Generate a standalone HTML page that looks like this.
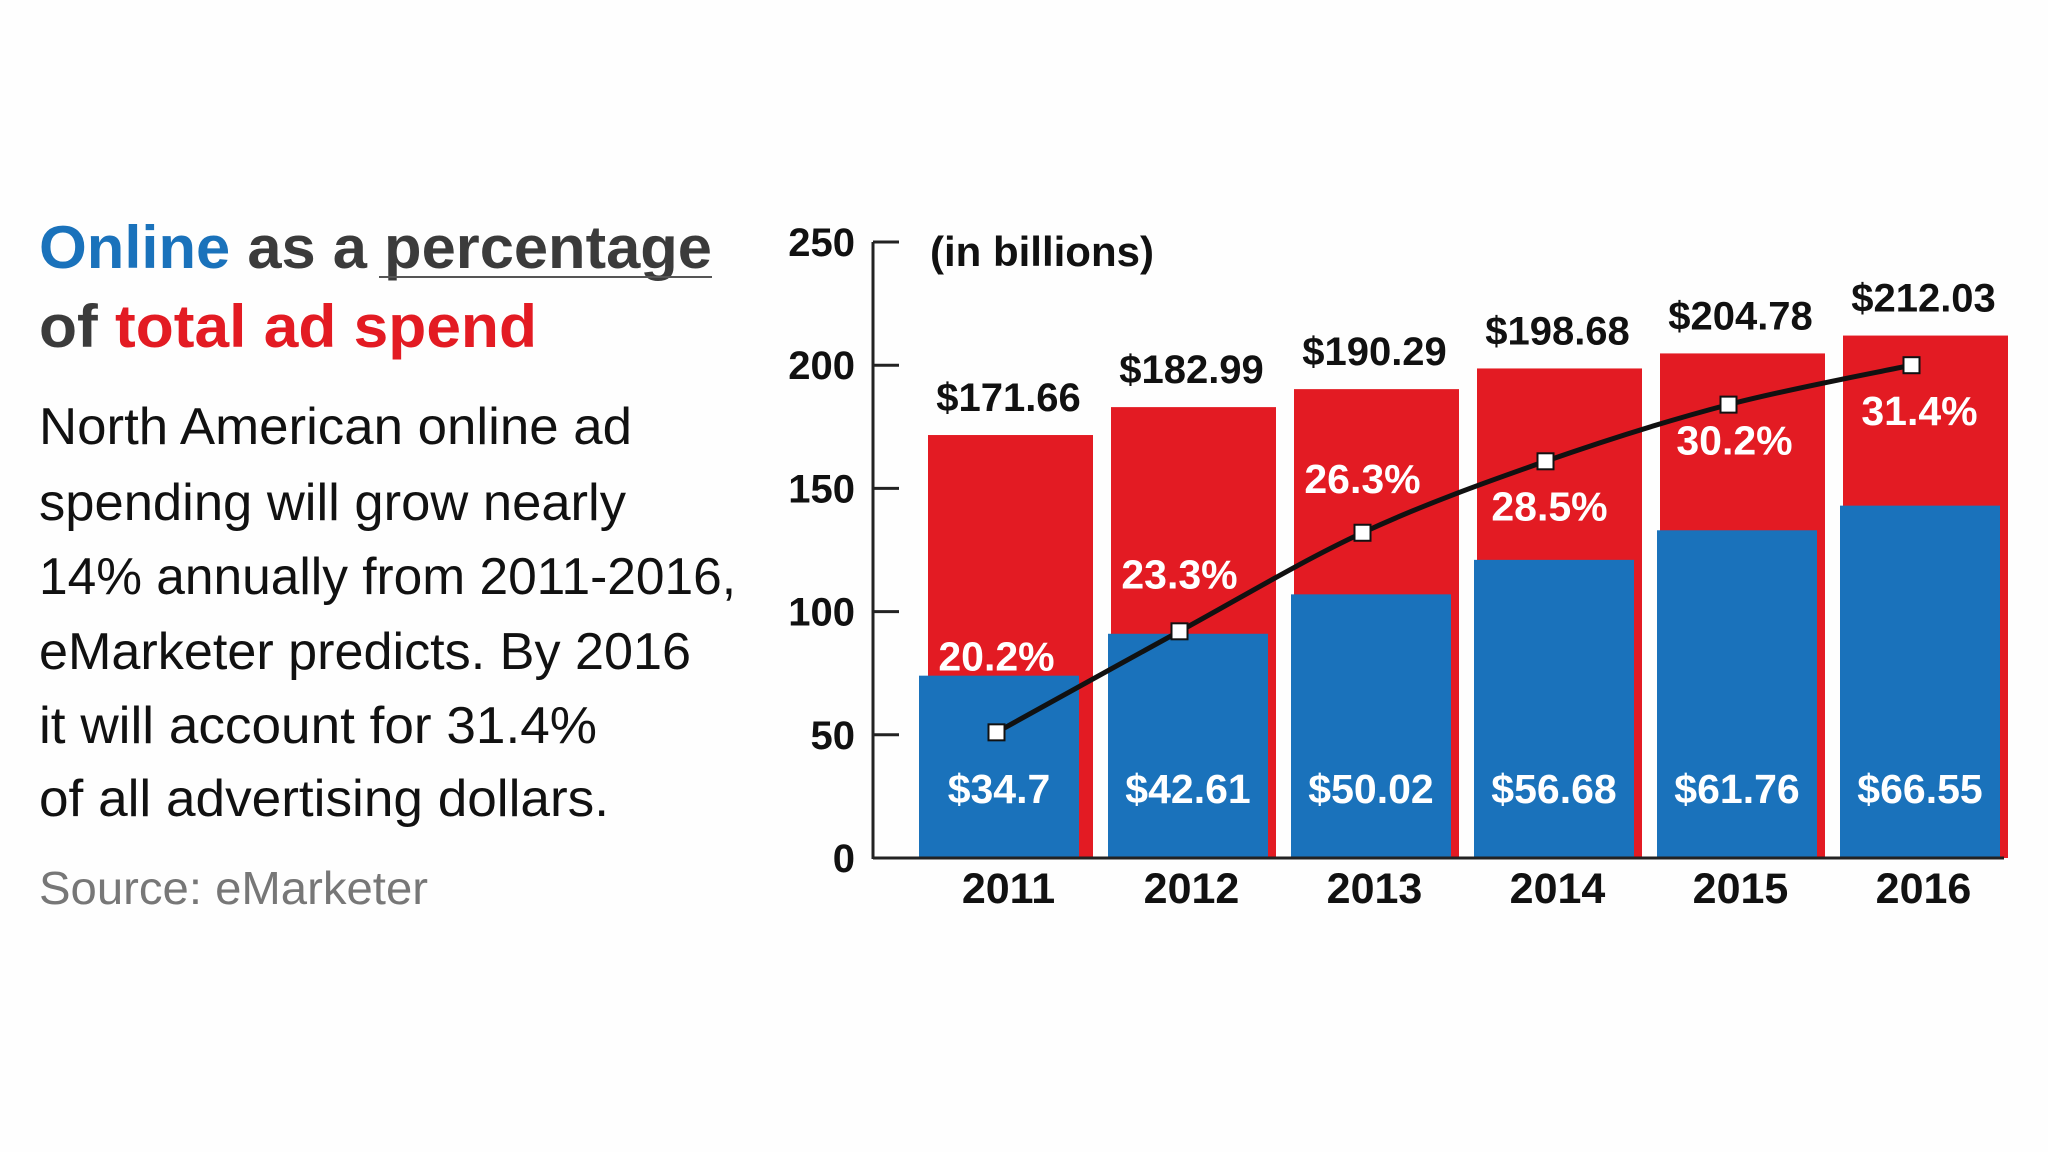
<!DOCTYPE html>
<html><head><meta charset="utf-8"><style>
html,body{margin:0;padding:0;background:#fff;}
svg{display:block;font-family:"Liberation Sans",sans-serif;}
</style></head><body>
<svg id="chart" width="2048" height="1152" viewBox="0 0 2048 1152" xmlns="http://www.w3.org/2000/svg">
<rect width="2048" height="1152" fill="#fefefe"/>
<g font-weight="bold" font-size="60">
<text x="39" y="268" textLength="673" lengthAdjust="spacingAndGlyphs"><tspan fill="#1a72bb">Online</tspan><tspan fill="#3b3b3b"> as a percentage</tspan></text>
<line x1="379" y1="277" x2="712" y2="277" stroke="#555" stroke-width="2"/>
<text x="39" y="347" textLength="498" lengthAdjust="spacingAndGlyphs"><tspan fill="#3b3b3b">of </tspan><tspan fill="#e31b23">total ad spend</tspan></text>
</g>
<g font-size="52" fill="#111">
<text x="39" y="444" textLength="593" lengthAdjust="spacingAndGlyphs">North American online ad</text>
<text x="39" y="520" textLength="587" lengthAdjust="spacingAndGlyphs">spending will grow nearly</text>
<text x="39" y="594" textLength="697" lengthAdjust="spacingAndGlyphs">14% annually from 2011-2016,</text>
<text x="39" y="669" textLength="652" lengthAdjust="spacingAndGlyphs">eMarketer predicts. By 2016</text>
<text x="39" y="743" textLength="558" lengthAdjust="spacingAndGlyphs">it will account for 31.4%</text>
<text x="39" y="816" textLength="570" lengthAdjust="spacingAndGlyphs">of all advertising dollars.</text>
</g>
<text x="39" y="904" font-size="46" fill="#777" textLength="389" lengthAdjust="spacingAndGlyphs">Source: eMarketer</text>
<g id="plot"></g>
</svg>
<script>
const years = ["2011","2012","2013","2014","2015","2016"];
const totals = [171.66,182.99,190.29,198.68,204.78,212.03];
const totalLabels = ["$171.66","$182.99","$190.29","$198.68","$204.78","$212.03"];
const onlineBarHeights = [74,91,107,121,133,143];
const onlineLabels = ["$34.7","$42.61","$50.02","$56.68","$61.76","$66.55"];
const linePoints = [51,92,132,161,184,200];
const pctLabels = ["20.2%","23.3%","26.3%","28.5%","30.2%","31.4%"];
const yTicks = [0,50,100,150,200,250];

const NS="http://www.w3.org/2000/svg";
const g=document.getElementById('plot');
const x0=873, y0=858, yTop=242, yMax=250;
const pitch=183, barW=165, blueW=160;
const Y=v=>y0-(v/yMax)*(y0-yTop);
const X=i=>928+i*pitch;
function mk(tag,attrs,parent){const e=document.createElementNS(NS,tag);for(const k in attrs)e.setAttribute(k,attrs[k]);(parent||g).appendChild(e);return e;}

yTicks.forEach(t=>{
  const tl=mk('line',{x1:x0,x2:x0+26,y1:Y(t),y2:Y(t),stroke:'#222','stroke-width':3});
  
  
  const tx=mk('text',{x:855,y:Y(t)+14,'text-anchor':'end','font-size':40,'font-weight':'bold',fill:'#111'});
  tx.textContent=t;
  
  
});
const unit=mk('text',{x:930,y:266,'font-size':42,'font-weight':'bold',fill:'#111'});
unit.textContent='(in billions)';



years.forEach((yr,i)=>{
  const r=mk('rect',{x:X(i),y:Y(totals[i]),width:barW,height:y0-Y(totals[i]),fill:'#e31b23'});
  
  
});
years.forEach((yr,i)=>{
  const bx=X(i)-(i===0?9:3);
  const b=mk('rect',{x:bx,y:Y(onlineBarHeights[i]),width:blueW,height:y0-Y(onlineBarHeights[i]),fill:'#1a72bb'});
  
  
  const tl=mk('text',{x:X(i)+barW/2-2,y:Y(totals[i])-24,'text-anchor':'middle','font-size':40,'font-weight':'bold',fill:'#111'});
  tl.textContent=totalLabels[i];
  
  
  const ol=mk('text',{x:bx+blueW/2,y:803,'text-anchor':'middle','font-size':41,'font-weight':'bold',fill:'#fff'});
  ol.textContent=onlineLabels[i];
  
  
  const yl=mk('text',{x:X(i)+barW/2-2,y:903,'text-anchor':'middle','font-size':43,'font-weight':'bold',fill:'#111'});
  yl.textContent=yr;
  
  
});
mk('line',{x1:x0,y1:yTop,x2:x0,y2:y0+1,stroke:'#222','stroke-width':3});
const ax=mk('line',{x1:x0,y1:y0,x2:2004,y2:y0,stroke:'#222','stroke-width':3});



const pts=linePoints.map((v,i)=>[X(i)+barW/2-14,Y(v)]);
let d='M'+pts[0][0]+','+pts[0][1];
for(let i=1;i<pts.length;i++){
  const p0=pts[Math.max(0,i-2)],p1=pts[i-1],p2=pts[i],p3=pts[Math.min(pts.length-1,i+1)];
  const c1=[p1[0]+(p2[0]-p0[0])/6,p1[1]+(p2[1]-p0[1])/6];
  const c2=[p2[0]-(p3[0]-p1[0])/6,p2[1]-(p3[1]-p1[1])/6];
  d+=' C'+c1+' '+c2+' '+p2;
}
const path=mk('path',{d:d,fill:'none',stroke:'#111','stroke-width':5});


const pctOff=[[0,-76],[0,-57],[0,-54],[4,45],[6,36],[8,46]];
pts.forEach((p,i)=>{
  const m=mk('rect',{x:p[0]-8,y:p[1]-8,width:16,height:16,fill:'#fff',stroke:'#111','stroke-width':2});
  
  
  const t=mk('text',{x:p[0]+pctOff[i][0],y:p[1]+pctOff[i][1]+14,'text-anchor':'middle','font-size':41,'font-weight':'bold',fill:'#fff'});
  t.textContent=pctLabels[i];
  
  
});
</script>
</body></html>
